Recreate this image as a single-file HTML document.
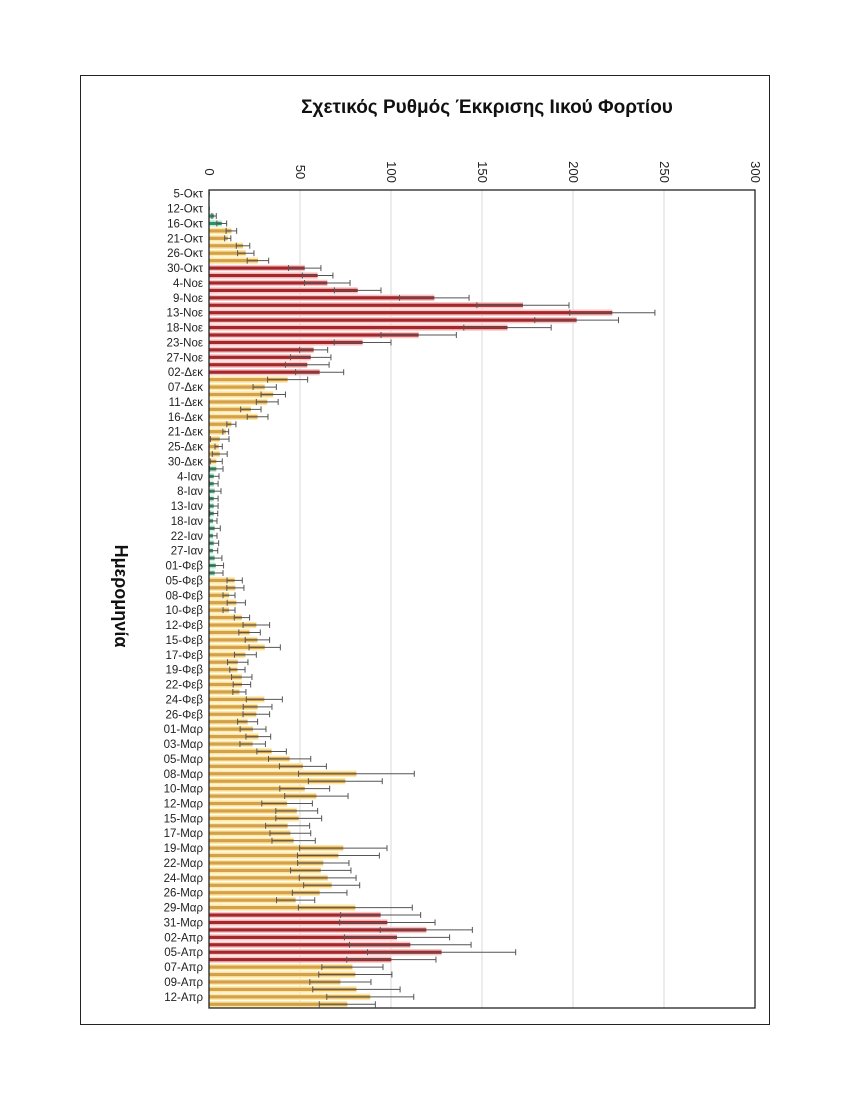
<!DOCTYPE html>
<html><head><meta charset="utf-8"><style>
html,body{margin:0;padding:0;background:#fff;width:850px;height:1100px;overflow:hidden}
svg{display:block;font-family:"Liberation Sans","DejaVu Sans",sans-serif}
</style></head><body>
<svg id="chart" width="850" height="1100" viewBox="0 0 850 1100" xmlns="http://www.w3.org/2000/svg">
<rect x="80.5" y="75.5" width="689" height="949" fill="#fff" stroke="#222" stroke-width="1"/>
<text x="487" y="113" text-anchor="middle" font-size="19" font-weight="bold" fill="#111">Σχετικός Ρυθμός Έκκρισης Ιικού Φορτίου</text>
<text transform="translate(115,596) rotate(90)" text-anchor="middle" font-size="18" font-weight="bold" fill="#111">Ημερομηνία</text>
<g id="grid"></g><g id="bars"></g><g id="errs"></g><g id="axes"></g>
</svg>
<script>
const tickValues=[0,50,100,150,200,250,300];
const dateLabels=["5-Οκτ","12-Οκτ","16-Οκτ","21-Οκτ","26-Οκτ","30-Οκτ","4-Νοε","9-Νοε","13-Νοε","18-Νοε","23-Νοε","27-Νοε","02-Δεκ","07-Δεκ","11-Δεκ","16-Δεκ","21-Δεκ","25-Δεκ","30-Δεκ","4-Ιαν","8-Ιαν","13-Ιαν","18-Ιαν","22-Ιαν","27-Ιαν","01-Φεβ","05-Φεβ","08-Φεβ","10-Φεβ","12-Φεβ","15-Φεβ","17-Φεβ","19-Φεβ","22-Φεβ","24-Φεβ","26-Φεβ","01-Μαρ","03-Μαρ","05-Μαρ","08-Μαρ","10-Μαρ","12-Μαρ","15-Μαρ","17-Μαρ","19-Μαρ","22-Μαρ","24-Μαρ","26-Μαρ","29-Μαρ","31-Μαρ","02-Απρ","05-Απρ","07-Απρ","09-Απρ","12-Απρ"];
const values=[0.5,0.3,0.5,2.8,7,12.3,10.3,18.7,20.2,26.9,52.6,59.7,65,81.7,123.8,172.5,221.6,202,164,115.2,84.4,57.5,55.9,54,60.8,43.2,30.6,35.3,32,23,26.7,12.3,9.2,5.9,5.3,5.9,4,4,2.6,2.6,3.1,2.6,2.6,2.6,2.2,3.1,2.2,2.6,2.2,3.1,3.7,3.1,14.1,14.5,11,15,11,18.1,26,22.3,26.6,30.6,20,15.8,15.6,18,18.1,16.7,30.4,26.7,26,21.2,24.2,27.1,24,34.4,44.3,51.6,81,74.9,52.6,59,42.9,48.2,49.3,43.2,44.7,46.5,73.8,71.1,62.8,61.4,65.2,67.4,60.8,47.6,80.4,94.3,98,119.4,103.3,110.6,127.8,100.2,78.8,80.4,72.2,81,88.6,76];
const errorTops=[0.5,0.3,0.5,4,9.7,15.2,12,22.4,24.7,32.8,61.5,68.1,77.5,94.5,142.9,197.8,245,225,188,135.9,100,65.2,67,66,74,54.2,37,42,38,28.6,32.4,14.8,10.8,11,7.3,10,7.3,7.7,5.5,5,6.6,5,5,4.8,4.4,6.2,4.4,5.3,4.8,7.1,8,7.7,18.3,19.2,14.3,20,14.3,22.3,33.3,28.2,33.3,39.2,26,21.4,19.8,23.6,22.9,20.3,40.3,34.6,33.3,26.7,31.3,33.9,31,42.5,55.9,64.5,112.8,95.2,66.3,76.4,56.8,59.7,61.9,55.3,55.9,58.4,97.8,93.6,76.9,78,80.8,82.8,75.8,58.1,111.7,116.3,124.2,144.7,132.2,144,168.5,124.7,95.6,100.5,89,105,112.5,91.4];
const phase=["g","g","g","g","g","y","y","y","y","y","r","r","r","r","r","r","r","r","r","r","r","r","r","r","r","y","y","y","y","y","y","y","y","y","y","y","y","g","g","g","g","g","g","g","g","g","g","g","g","g","g","g","y","y","y","y","y","y","y","y","y","y","y","y","y","y","y","y","y","y","y","y","y","y","y","y","y","y","y","y","y","y","y","y","y","y","y","y","y","y","y","y","y","y","y","y","y","r","r","r","r","r","r","r","y","y","y","y","y","y"];
const NS="http://www.w3.org/2000/svg";
const X0=209,X1=755,Y0=190,Y1=1008,VMAX=300;
const n=values.length, step=(Y1-Y0)/n;
const xs=v=>X0+(v/VMAX)*(X1-X0);
const ys=i=>Y0+(i+0.5)*step;
const pal={r:["#f8c6c6","#a3282b"],y:["#fde8a6","#d5a04a"],g:["#cdeedd","#2e9467"]};
function mk(tag,attrs,parent){const e=document.createElementNS(NS,tag);for(const k in attrs)e.setAttribute(k,attrs[k]);parent.appendChild(e);return e;}
const grid=document.getElementById('grid'),bars=document.getElementById('bars'),errs=document.getElementById('errs'),axes=document.getElementById('axes');
tickValues.forEach(t=>{
  if(t>0&&t<VMAX){const l=mk('line',{x1:xs(t),x2:xs(t),y1:Y0,y2:Y1,stroke:'#d9d9d9','stroke-width':1},grid);
  
  }
  const tx=mk('text',{transform:`translate(${xs(t)-4},${172}) rotate(90)`,'text-anchor':'middle','font-size':13,fill:'#222'},axes);
  tx.textContent=t;
  
  
});
values.forEach((v,i)=>{
  const c=pal[phase[i]],y=ys(i),w=xs(v)-X0;
  const g=mk('g',{},bars);
  
  
  mk('rect',{x:X0,y:y-3.2,width:w,height:6.4,fill:c[0]},g);
  mk('rect',{x:X0,y:y-1.6,width:w,height:3.2,fill:c[1]},g);
  const e=errorTops[i]-v;
  if(e>0.3){
    const eg=mk('g',{stroke:'#555','stroke-width':1},errs);
    
    
    const lo=xs(Math.max(0,v-e)),hi=xs(v+e);
    mk('line',{x1:lo,x2:hi,y1:y,y2:y},eg);
    mk('line',{x1:lo,x2:lo,y1:y-3,y2:y+3},eg);
    mk('line',{x1:hi,x2:hi,y1:y-3,y2:y+3},eg);
  }
});
dateLabels.forEach((d,j)=>{
  const t=mk('text',{x:203,y:ys(j*2)+4,'text-anchor':'end','font-size':11.5,fill:'#222'},axes);
  t.textContent=d;
  
  
});
const fr=mk('rect',{x:X0,y:Y0,width:X1-X0,height:Y1-Y0,fill:'none',stroke:'#222','stroke-width':1.3},axes);


</script>
</body></html>
